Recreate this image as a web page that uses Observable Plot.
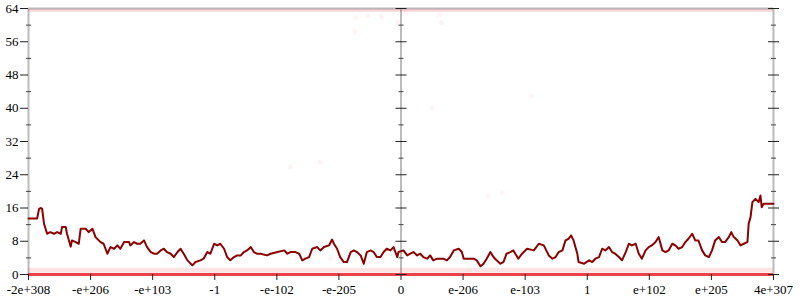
<!DOCTYPE html>
<html><head><meta charset="utf-8">
<script src="https://cdn.jsdelivr.net/npm/d3@7"></script>
<script src="https://cdn.jsdelivr.net/npm/@observablehq/plot@0.6"></script>
<style>body{margin:0;background:#fff}</style>
</head><body><div id="chart"></div>
<script>
const tickLabels = ["-2e+308","-e+206","-e+103","-1","-e-102","-e-205","0","e-206","e-103","1","e+102","e+205","4e+307"];
const tickPositions = [0,1,2,3,4,5,6,7,8,9,10,11,12];
const yMajor = [0,8,16,24,32,40,48,56,64];
const yMinor = [4,12,20,28,36,44,52,60];
const axisPositions = [0,6,12];

const lineX = [0,0.14,0.17,0.20,0.22,0.25,0.30,0.35,0.41,0.46,0.52,0.54,0.60,0.62,0.68,0.70,0.76,0.81,0.84,0.92,0.97,1.03,1.08,1.16,1.21,1.27,1.32,1.38,1.43,1.48,1.54,1.62,1.64,1.70,1.75,1.80,1.86,1.91,1.97,2.02,2.07,2.13,2.18,2.23,2.29,2.34,2.40,2.45,2.50,2.56,2.64,2.69,2.77,2.82,2.88,2.93,2.99,3.04,3.09,3.15,3.20,3.25,3.31,3.36,3.42,3.47,3.52,3.58,3.63,3.68,3.74,3.84,
3.90,4.01,4.12,4.17,4.22,4.30,4.36,4.41,4.46,4.52,4.57,4.65,4.70,4.76,4.84,4.89,4.92,4.97,5.02,5.08,5.13,5.19,5.24,5.29,5.35,5.40,5.45,5.51,5.56,5.61,5.67,5.72,5.77,5.83,5.88,5.94,5.96,6.04,6.10,6.15,6.20,6.26,6.31,6.36,6.42,6.47,6.52,6.58,6.68,6.74,6.79,6.85,6.93,6.98,7.01,7.06,7.17,7.22,7.28,7.33,7.38,7.44,7.49,7.54,7.60,7.65,7.70,7.76,7.81,7.89,7.95,8.03,8.14,8.22,8.30,8.38,8.44,8.49,8.54,8.60,8.65,8.70,8.74,8.78,8.84,8.86,8.95,9.03,9.08,9.13,9.19,9.24,9.29,9.35,9.40,9.45,9.51,9.56,9.62,9.67,9.72,9.78,9.83,9.88,9.94,9.99,10.04,10.10,10.15,10.21,10.26,10.31,10.37,10.42,10.47,10.53,10.58,10.63,10.69,10.74,10.79,10.85,10.90,10.96,11.01,11.06,11.12,11.17,11.22,11.28,11.32,11.36,11.42,11.47,11.52,11.58,11.60,11.63,11.66,11.71,11.76,11.79,11.81,11.84,12];
const lineY = [13.5,13.5,15.8,16.0,15.8,12.2,9.8,10.2,9.8,10.2,9.8,11.4,11.4,9.8,6.7,8.2,7.8,7.4,11.0,11.0,10.2,11.0,9.0,7.8,7.4,5.0,6.6,6.2,7.0,6.2,7.8,7.8,7.0,7.8,7.4,7.4,8.2,6.6,5.4,5.0,5.0,5.8,6.2,5.4,5.0,4.2,5.4,6.2,5.0,3.4,2.2,3.0,3.4,3.8,5.4,5.0,7.4,7.0,7.4,6.2,4.2,3.4,4.2,4.6,4.6,5.4,5.8,6.6,5.4,5.0,5.0,4.6,
5.0,5.4,5.8,5.0,5.4,5.4,5.0,3.4,3.8,4.2,6.2,6.6,5.8,6.6,7.0,8.4,7.4,6.2,4.2,3.0,3.0,5.4,5.8,5.4,4.6,2.6,5.4,5.8,5.4,4.2,4.2,5.4,6.2,5.8,6.6,4.2,5.4,5.8,4.6,5.0,5.4,4.6,5.0,4.2,3.8,4.6,3.4,3.8,3.8,3.4,4.2,5.8,6.2,5.4,3.8,3.8,3.8,3.4,2.0,2.6,3.8,5.4,4.2,3.4,2.6,3.0,5.0,5.4,5.8,3.8,5.0,6.2,5.8,7.4,7.0,4.6,3.8,4.2,5.4,5.8,8.2,8.6,9.4,8.2,5.0,3.0,2.6,3.4,3.0,3.8,4.2,6.2,5.8,6.6,5.4,5.0,4.2,3.4,5.4,7.4,7.0,7.4,5.0,3.8,5.8,6.6,7.0,7.8,9.0,5.8,5.4,5.8,7.4,7.0,6.2,6.6,7.8,8.6,9.8,8.2,8.2,5.8,4.6,4.2,5.8,8.2,9.0,7.8,7.8,9.0,10.2,9.0,8.2,7.0,7.4,7.8,12.2,13.8,17.4,18.2,17.4,19.0,16.2,17.0,17.0];

const scatterX = [5.27,5.46,5.68,5.95,6.07,5.26,6.62,6.65,7.41,7.63,4.86,4.22,6.50,4.70,8.10];
const scatterY = [61.8,62.3,62.0,60.7,63.0,58.5,62.5,60.6,19.0,19.8,3.8,26.0,40.0,27.0,43.0];

const bandValues = [0, 1, 63.6];
const bandWidths = [3, 5, 3];
const bandOpacity = [0.85, 0.12, 0.18];

const line = lineX.map((x, i) => ({x, y: lineY[i]}));
const scatter = scatterX.map((x, i) => ({x, y: scatterY[i]}));
const bands = bandValues.map((y, i) => ({y, w: bandWidths[i], o: bandOpacity[i]}));
const hTick = (half) => ({draw(ctx) { ctx.moveTo(-half, 0); ctx.lineTo(half, 0); }});
const majorTicks = yMajor.flatMap(y => [6, 12].map(x => ({x, y})));
const minorTicks = yMinor.flatMap(y => axisPositions.map(x => ({x, y})));

const chart = Plot.plot({
  width: 800, height: 300,
  marginLeft: 28, marginRight: 27, marginTop: 8, marginBottom: 26,
  style: {background: "white", fontFamily: "serif", fontSize: "13px"},
  x: {domain: [0, 12], axis: null},
  y: {domain: [0, 64], axis: null},
  marks: [
    Plot.ruleX(axisPositions, {stroke: "#bbb", strokeWidth: 2}),
    Plot.ruleY([64], {stroke: "#bbb", strokeWidth: 2}),
    ...bands.map(b => Plot.ruleY([b], {y: "y", stroke: "#e8202a", strokeOpacity: b.o, strokeWidth: b.w})),
    Plot.dot(scatter, {x: "x", y: "y", r: 2.5, fill: "#f03030", fillOpacity: 0.05}),
    Plot.line(line, {x: "x", y: "y", stroke: "#8b0000", strokeWidth: 2}),
    Plot.dot(majorTicks, {x: "x", y: "y", symbol: hTick(5.5), stroke: "#222", fill: "none", strokeWidth: 1}),
    Plot.dot(minorTicks, {x: "x", y: "y", symbol: hTick(2.5), stroke: "#444", fill: "none", strokeWidth: 1}),
    Plot.axisY({ticks: yMajor, tickSize: 8, tickPadding: 2, label: null, stroke: "#222", fill: "black"}),
    Plot.axisX({ticks: tickPositions, tickSize: 6, tickPadding: 4, label: null, tickFormat: i => tickLabels[i], stroke: "#222", fill: "black"})
  ]
});
d3.select(chart).attr("font-family", null).attr("font-size", null);
d3.select(chart).selectAll("g").attr("font-family", null).attr("font-size", null);
d3.select(chart).selectAll("text").attr("style", "font-family:serif;font-size:13px");
document.getElementById("chart").appendChild(chart);
</script></body></html>
